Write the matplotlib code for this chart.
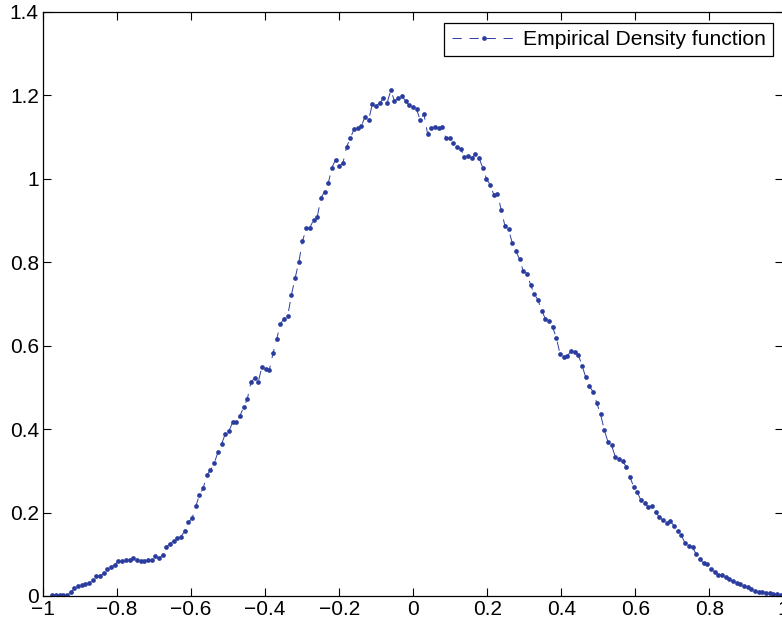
"""Empirical density function plot"""
import numpy as np
import matplotlib
matplotlib.use("Agg")
import matplotlib.pyplot as plt  # type: ignore

# sample grid (evenly spaced evaluation points)
x_first, x_last, n_points = -0.975, 0.993, 199

# density values, one per grid point
density = [
    0.002, 0.002, 0.002, 0.002, 0.002, 0.009, 0.018, 0.024, 0.026, 0.028,
    0.030, 0.038, 0.049, 0.049, 0.054, 0.064, 0.069, 0.075, 0.085, 0.085,
    0.086, 0.087, 0.090, 0.087, 0.085, 0.085, 0.086, 0.087, 0.095, 0.090,
    0.098, 0.118, 0.125, 0.132, 0.138, 0.142, 0.156, 0.177, 0.186, 0.215,
    0.242, 0.258, 0.289, 0.302, 0.318, 0.344, 0.364, 0.388, 0.395, 0.416,
    0.416, 0.432, 0.452, 0.472, 0.512, 0.523, 0.514, 0.550, 0.544, 0.542,
    0.582, 0.616, 0.652, 0.665, 0.672, 0.722, 0.762, 0.800, 0.850, 0.881,
    0.883, 0.901, 0.908, 0.954, 0.969, 0.989, 1.027, 1.046, 1.030, 1.038,
    1.077, 1.097, 1.119, 1.122, 1.126, 1.149, 1.141, 1.180, 1.175, 1.182,
    1.193, 1.182, 1.212, 1.187, 1.193, 1.198, 1.187, 1.176, 1.173, 1.168,
    1.140, 1.156, 1.108, 1.122, 1.124, 1.121, 1.124, 1.097, 1.097, 1.087,
    1.077, 1.072, 1.052, 1.054, 1.050, 1.059, 1.050, 1.026, 1.000, 0.986,
    0.962, 0.964, 0.926, 0.888, 0.879, 0.847, 0.827, 0.807, 0.779, 0.773,
    0.746, 0.723, 0.710, 0.684, 0.665, 0.660, 0.644, 0.619, 0.580, 0.572,
    0.575, 0.588, 0.584, 0.577, 0.552, 0.524, 0.503, 0.489, 0.462, 0.436,
    0.399, 0.370, 0.361, 0.334, 0.329, 0.323, 0.310, 0.285, 0.262, 0.249,
    0.229, 0.222, 0.213, 0.216, 0.201, 0.189, 0.181, 0.174, 0.179, 0.168,
    0.155, 0.145, 0.126, 0.121, 0.117, 0.100, 0.089, 0.078, 0.076, 0.065,
    0.058, 0.050, 0.050, 0.045, 0.040, 0.035, 0.030, 0.028, 0.024, 0.021,
    0.016, 0.011, 0.010, 0.010, 0.008, 0.006, 0.005, 0.005, 0.003,
]

x_ticks = [-1, -0.8, -0.6, -0.4, -0.2, 0, 0.2, 0.4, 0.6, 0.8, 1]
x_tick_labels = ["\u22121", "\u22120.8", "\u22120.6", "\u22120.4", "\u22120.2",
                 "0", "0.2", "0.4", "0.6", "0.8", "1"]
y_ticks = [0, 0.2, 0.4, 0.6, 0.8, 1, 1.2, 1.4]
y_tick_labels = ["0", "0.2", "0.4", "0.6", "0.8", "1", "1.2", "1.4"]

plt.rcParams["font.family"] = ["Liberation Sans", "DejaVu Sans"]
plt.rcParams["font.size"] = 15

fig = plt.figure(figsize=(7.82, 6.24), dpi=100)
ax = fig.add_axes([0.055, 0.0449, 0.9468, 0.9359])

xs = np.linspace(x_first, x_last, n_points)
ax.plot(xs, density, color="#2a3d9f", linestyle="--", dashes=(9.5, 8),
        linewidth=0.7, marker="o", markersize=3.4, markeredgewidth=0,
        label="Empirical Density function")

ax.set_xlim(-1, 1)
ax.set_ylim(0, 1.4)
ax.set_xticks(x_ticks)
ax.set_xticklabels(x_tick_labels)
ax.set_yticks(y_ticks)
ax.set_yticklabels(y_tick_labels)
ax.tick_params(direction="in", length=5.8, width=0.8, top=True, right=True,
               colors="black", labelsize=15, pad=3)
for spine in ax.spines.values():
    spine.set_linewidth(0.9)

leg = ax.legend(loc="upper right", fancybox=False, framealpha=1,
                edgecolor="black", fontsize=15.2, handlelength=3.0,
                handletextpad=0.35, borderpad=0.35, borderaxespad=0.5)
leg.get_frame().set_linewidth(0.9)

fig.savefig("out.png", dpi=100)
